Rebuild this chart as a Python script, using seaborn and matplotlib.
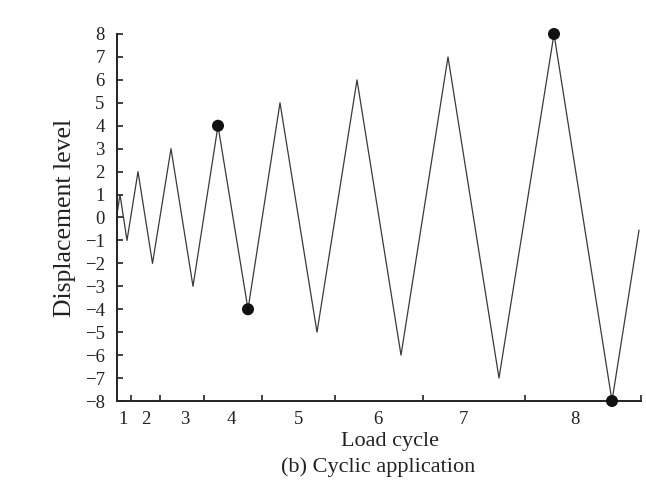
import numpy as np
import pandas as pd
import matplotlib
matplotlib.use("Agg")
import matplotlib.pyplot as plt
import seaborn as sns

# ---- data ----
time_pos = [0, 3.5, 10.5, 21.5, 36, 54.5, 76.5, 101.5, 131.5, 163.5,
            200.5, 240.5, 284.5, 331.5, 382.5, 437.5, 495.5, 522.5]
level = [0, 1, -1, 2, -2, 3, -3, 4, -4, 5, -5, 6, -6, 7, -7, 8, -8, -0.55]
marked_idx = [7, 8, 15, 16]
cycle_labels = ["1", "2", "3", "4", "5", "6", "7", "8"]
cycle_label_pos = [6.5, 29.5, 68.5, 114.5, 182.5, 261.5, 346.5, 458.5]
x_end = 524.5
y_ticks = list(range(-8, 9))

df = pd.DataFrame({"t": time_pos, "d": level})
mk = df.iloc[marked_idx]

sns.set_theme(style="white")
plt.rcParams["font.family"] = ["Liberation Serif", "DejaVu Serif"]
plt.rcParams["axes.unicode_minus"] = True

fig = plt.figure(figsize=(6.46, 4.86), dpi=100)
ax = fig.add_axes([116.5 / 646, 85 / 486, (641 - 116.5) / 646, (401 - 34) / 486])

sns.lineplot(data=df, x="t", y="d", sort=False, estimator=None,
             color="#3a3a3a", linewidth=0.9, ax=ax)
sns.scatterplot(data=mk, x="t", y="d", color="#111111", s=75,
                edgecolor="none", zorder=5, clip_on=False, ax=ax)

ax.set_xlim(0, x_end)
ax.set_ylim(-8, 8)

# cycle boundaries: upward zero crossings
t = np.array(time_pos, float)
y = np.array(level, float)
bounds = []
for i in range(len(y) - 1):
    if y[i] < 0 < y[i + 1]:
        bounds.append(t[i] + (0 - y[i]) * (t[i + 1] - t[i]) / (y[i + 1] - y[i]))
bounds.append(x_end)

ax.set_xticks(cycle_label_pos)
ax.set_xticklabels(cycle_labels)
ax.set_xticks(bounds, minor=True)
ax.set_yticks(y_ticks)

for s in ["top", "right"]:
    ax.spines[s].set_visible(False)
for s in ["left", "bottom"]:
    ax.spines[s].set_color("#222222")
    ax.spines[s].set_linewidth(1.4)

ax.tick_params(axis="x", which="major", length=0, pad=7, labelsize=13.5, colors="#222222")
ax.tick_params(axis="x", which="minor", direction="in", length=4, width=1.2, color="#222222", bottom=True)
ax.tick_params(axis="y", which="major", direction="in", length=4, width=1.2, pad=8.5,
               labelsize=13.5, colors="#222222", left=True)

ax.set_xlabel("Load cycle", fontsize=16, color="#222222")
ax.set_ylabel("Displacement level", fontsize=18.5, color="#222222")
ax.xaxis.set_label_coords((390 - 116.5) / (641 - 116.5), -(441 - 401) / 367, transform=ax.transAxes)
ax.xaxis.label.set_va("center")
ax.yaxis.set_label_coords(-(116.5 - 65) / 524.5, 0.5, transform=ax.transAxes)
ax.yaxis.label.set_va("center")

fig.text(378 / 646, 1 - 467 / 486, "(b) Cyclic application", fontsize=16,
         ha="center", va="center", color="#222222")

ax.grid(False)
fig.savefig("out.png", dpi=100)
